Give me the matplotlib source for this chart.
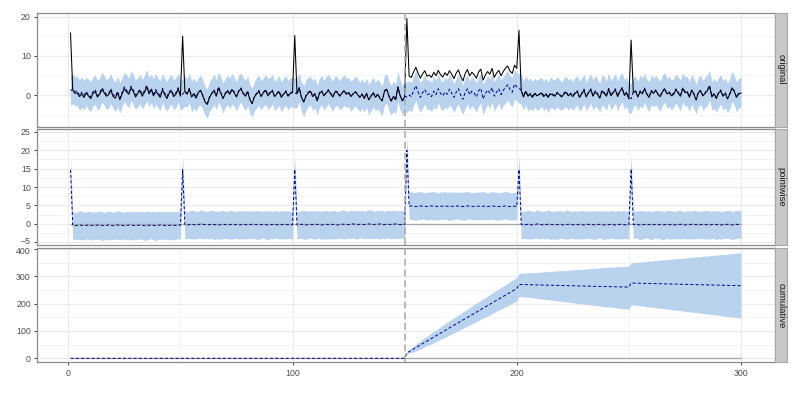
import numpy as np
import matplotlib
matplotlib.use("Agg")
import matplotlib.pyplot as plt
from matplotlib.ticker import FixedLocator
import matplotlib.transforms as mtransforms

plt.rcParams['font.family'] = ['Liberation Sans', 'DejaVu Sans']

# ---------------- data ----------------
time = np.arange(1, 301)
intervention_end = 150

panel_names = ["original", "pointwise", "cumulative"]

observed = [
    15.8, 1.2, 0.4, 0.6, -0.4, 0.3, -0.6, 0.5, -0.2, -0.9,
    0.4, 0.9, -0.5, 0.2, 1.4, 0.6, -0.3, 0.1, 1.2, -0.4,
    -0.8, 0.6, -1.2, 0.3, 1.6, 0.8, 0.2, 1.9, 0.9, -0.5,
    0.4, 1.1, -0.3, 0.7, 2.1, 0.3, 1.4, -0.2, 0.9, 0.2,
    -0.6, 1.3, 0.1, -0.9, 0.5, 1.0, -0.4, 0.2, 1.6, -0.3,
    15.0, 0.8, 0.2, 1.5, -0.5, 0.3, -0.8, 0.6, 1.2, -0.2,
    -1.8, -2.4, -0.6, 0.4, 1.1, -0.3, 1.8, 0.5, -0.9, 0.3,
    1.0, 0.2, 1.4, 0.6, -0.5, 0.9, 1.6, 0.4, -0.3, 0.8,
    -1.2, -2.2, -0.5, 0.3, 0.9, -0.4, 0.6, 1.2, -0.2, 0.5,
    1.1, -0.4, 0.3, 0.8, -0.6, 0.2, 0.9, -0.3, 0.4, 0.6,
    15.2, 0.3, 1.7, -0.6, -1.8, -0.3, 0.5, 1.0, -0.4, 0.2,
    -1.5, 0.4, 0.9, -0.2, 0.5, 1.2, 0.3, -0.5, 0.8, 0.6,
    -0.3, 0.4, 1.1, 0.2, 0.6, -0.4, 0.3, 0.8, 0.1, -0.6,
    0.2, -0.9, 0.4, -1.2, -0.3, 0.5, -0.6, 0.2, -0.8, -1.5,
    0.9, 1.5, -0.3, -1.6, -0.4, -1.2, 2.0, -0.2, -1.5, -0.5,
    19.5, 4.8, 4.5, 5.9, 7.1, 5.6, 4.3, 5.4, 6.2, 4.8,
    5.1, 4.5, 5.8, 4.9, 6.3, 5.2, 4.6, 5.7, 5.0, 6.2,
    5.3, 4.2, 5.6, 6.4, 4.8, 3.6, 5.5, 6.5, 4.9, 5.8,
    5.2, 4.3, 5.9, 6.6, 3.8, 5.1, 6.0, 5.3, 6.8, 4.5,
    5.6, 6.3, 4.9, 6.0, 6.9, 7.4, 6.1, 5.5, 7.6, 6.8,
    16.5, 1.1, -0.5, 0.9, -0.3, 0.2, -0.6, 0.4, -0.2, 0.1,
    0.5, -0.4, 0.2, -0.6, 0.3, 0.0, -0.3, 0.5, 0.1, -0.5,
    0.2, 0.7, -0.2, 0.3, -0.4, 0.4, 0.9, -0.6, 0.3, 1.2,
    -0.5, 0.6, 1.4, -0.3, 0.8, 0.2, -0.8, 1.0, 0.4, -0.3,
    1.5, -0.2, 0.6, 1.3, -0.4, 0.9, 1.7, -0.1, 0.5, -1.0,
    14.0, 0.6, 1.0, -0.5, 0.8, 0.3, 1.6, 0.2, -0.6, 0.9,
    0.4, 1.2, 0.1, -0.4, 0.8, 1.5, 0.3, 0.6, -0.2, 0.2,
    1.4, 0.5, -0.3, 1.7, 0.6, 0.8, -0.6, 1.2, 0.2, -1.3,
    0.6, 1.0, -0.2, 0.4, 1.1, 2.2, -0.5, 0.3, -0.9, 0.5,
    1.0, -0.3, 0.4, -1.0, 0.2, 1.7, 0.9, -0.6, 0.3, 0.5,
]

pointwise_mean = [
    14.7,
    -0.4, -0.5, -0.4, -0.3, -0.4, -0.5, -0.4, -0.3, -0.4, -0.4,
    -0.5, -0.3, -0.4, -0.4, -0.5, -0.4, -0.3, -0.4, -0.5, -0.4,
    -0.3, -0.4, -0.4, -0.5, -0.4, -0.3, -0.4, -0.4, -0.5, -0.4,
    -0.3, -0.4, -0.5, -0.4, -0.4, -0.3, -0.4, -0.5, -0.4, -0.3,
    -0.4, -0.4, -0.5, -0.4, -0.3, -0.4, -0.4, -0.3, -0.4,
    14.8,
    -0.2, -0.3, -0.2, -0.1, -0.2, -0.3, -0.2, 0.0, -0.1, -0.2,
    -0.3, -0.2, -0.1, -0.2, -0.2, -0.3, -0.2, -0.1, -0.2, -0.3,
    -0.2, -0.1, -0.2, -0.2, -0.3, -0.2, -0.1, -0.2, -0.3, -0.2,
    -0.1, -0.2, -0.2, -0.3, -0.2, -0.1, -0.2, -0.3, -0.2, -0.2,
    -0.1, -0.2, -0.3, -0.2, -0.1, -0.2, -0.2, -0.3, -0.2,
    14.8,
    -0.3, -0.2, -0.1, -0.2, -0.3, -0.2, -0.1, -0.2, -0.2, -0.1,
    -0.2, -0.3, -0.2, -0.1, -0.2, -0.2, -0.1, -0.2, -0.3, -0.2,
    -0.1, -0.1, -0.2, -0.2, -0.1, 0.0, -0.1, -0.2, -0.1, -0.1,
    -0.2, -0.1, 0.0, -0.1, -0.2, -0.1, -0.1, 0.0, -0.1, -0.2,
    -0.1, -0.1, -0.2, -0.1, 0.0, -0.1, -0.2, -0.1, -0.2,
    20.0,
    4.8, 4.9, 4.8, 4.7, 4.8, 4.9, 4.8, 4.8, 4.7, 4.8,
    4.9, 4.8, 4.8, 4.7, 4.8, 4.8, 4.9, 4.8, 4.7, 4.8,
    4.8, 4.9, 4.8, 4.8, 4.7, 4.8, 4.9, 4.8, 4.8, 4.7,
    4.8, 4.8, 4.9, 4.8, 4.8, 4.7, 4.8, 4.9, 4.8, 4.8,
    4.7, 4.8, 4.8, 4.9, 4.8, 4.7, 4.8, 4.8, 4.7,
    14.8,
    -0.2, -0.3, -0.2, -0.1, -0.2, -0.3, -0.2, 0.0, -0.1, -0.2,
    -0.3, -0.2, -0.1, -0.2, -0.2, -0.3, -0.2, -0.1, -0.2, -0.3,
    -0.2, -0.1, -0.2, -0.2, -0.3, -0.2, -0.1, -0.2, -0.3, -0.2,
    -0.1, -0.2, -0.2, -0.3, -0.2, -0.1, -0.2, -0.3, -0.2, -0.2,
    -0.1, -0.2, -0.3, -0.2, -0.1, -0.2, -0.2, -0.3, -0.2,
    14.9,
    -0.2, -0.1, -0.2, -0.3, -0.2, -0.2, -0.1, -0.2, -0.3, -0.2,
    -0.1, -0.2, -0.2, -0.3, -0.2, -0.1, -0.2, -0.2, -0.3, -0.2,
    -0.2, -0.1, -0.2, -0.3, -0.2, -0.2, -0.1, -0.2, -0.2, -0.3,
    -0.2, -0.1, -0.2, -0.2, -0.3, -0.2, -0.1, -0.2, -0.2, -0.3,
    -0.2, -0.2, -0.1, -0.2, -0.3, -0.2, -0.1, -0.2, -0.2,
]

# distance of the pointwise interval edges above / below the pointwise mean
pointwise_up = [
    3.7, 3.8, 3.6, 3.7, 3.9, 3.8, 3.7, 3.6, 3.8, 3.7,
    3.6, 3.8, 3.7, 3.9, 3.7, 3.6, 3.8, 3.7, 3.8, 3.6,
    3.7, 3.9, 3.8, 3.6, 3.7, 3.8, 3.7, 3.6, 3.9, 3.7,
    3.8, 3.6, 3.7, 3.8, 3.9, 3.7, 3.6, 3.8, 3.7, 3.8,
    3.6, 3.7, 3.8, 3.7, 3.9, 3.6, 3.7, 3.8, 3.7, 3.9,
    3.7, 3.8, 3.6, 3.7, 3.9, 3.8, 3.7, 3.6, 3.8, 3.7,
    3.6, 3.8, 3.7, 3.9, 3.7, 3.6, 3.8, 3.7, 3.8, 3.6,
    3.7, 3.9, 3.8, 3.6, 3.7, 3.8, 3.7, 3.6, 3.9, 3.7,
    3.8, 3.6, 3.7, 3.8, 3.9, 3.7, 3.6, 3.8, 3.7, 3.8,
    3.6, 3.7, 3.8, 3.7, 3.9, 3.6, 3.7, 3.8, 3.7, 3.9,
    3.7, 3.8, 3.6, 3.7, 3.9, 3.8, 3.7, 3.6, 3.8, 3.7,
    3.6, 3.8, 3.7, 3.9, 3.7, 3.6, 3.8, 3.7, 3.8, 3.6,
    3.7, 3.9, 3.8, 3.6, 3.7, 3.8, 3.7, 3.6, 3.9, 3.7,
    3.8, 3.6, 3.7, 3.8, 3.9, 3.7, 3.6, 3.8, 3.7, 3.8,
    3.6, 3.7, 3.8, 3.7, 3.9, 3.6, 3.7, 3.8, 3.7, 3.9,
    3.9, 3.8, 3.9, 3.7, 3.8, 4.0, 3.8, 3.9, 3.7, 3.8,
    3.9, 3.8, 4.0, 3.8, 3.7, 3.9, 3.8, 3.9, 3.8, 4.0,
    3.8, 3.9, 3.7, 3.8, 3.9, 3.8, 4.0, 3.9, 3.8, 3.7,
    3.9, 3.8, 3.9, 3.8, 4.0, 3.8, 3.7, 3.9, 3.8, 3.9,
    3.8, 3.7, 3.9, 3.8, 4.0, 3.9, 3.8, 3.7, 3.8, 3.6,
    3.7, 3.8, 3.6, 3.7, 3.9, 3.8, 3.7, 3.6, 3.8, 3.7,
    3.6, 3.8, 3.7, 3.9, 3.7, 3.6, 3.8, 3.7, 3.8, 3.6,
    3.7, 3.9, 3.8, 3.6, 3.7, 3.8, 3.7, 3.6, 3.9, 3.7,
    3.8, 3.6, 3.7, 3.8, 3.9, 3.7, 3.6, 3.8, 3.7, 3.8,
    3.6, 3.7, 3.8, 3.7, 3.9, 3.6, 3.7, 3.8, 3.7, 3.9,
    3.7, 3.8, 3.6, 3.7, 3.9, 3.8, 3.7, 3.6, 3.8, 3.7,
    3.6, 3.8, 3.7, 3.9, 3.7, 3.6, 3.8, 3.7, 3.8, 3.6,
    3.7, 3.9, 3.8, 3.6, 3.7, 3.8, 3.7, 3.6, 3.9, 3.7,
    3.8, 3.6, 3.7, 3.8, 3.9, 3.7, 3.6, 3.8, 3.7, 3.8,
    3.6, 3.7, 3.8, 3.7, 3.9, 3.6, 3.7, 3.8, 3.7, 3.9,
]

pointwise_down = [
    3.8, 3.9, 3.7, 3.8, 4.0, 3.9, 3.8, 3.7, 3.9, 4.0,
    3.8, 3.7, 3.9, 3.8, 4.1, 3.9, 3.8, 4.0, 3.9, 3.7,
    3.8, 3.9, 4.0, 3.8, 3.7, 3.9, 3.8, 4.0, 3.9, 3.8,
    3.7, 3.9, 3.8, 4.0, 3.9, 3.8, 3.7, 3.9, 4.1, 3.8,
    3.9, 3.8, 3.7, 3.9, 3.8, 4.0, 3.9, 3.8, 3.7, 3.9,
    3.8, 3.9, 3.7, 3.8, 4.0, 3.9, 3.8, 3.7, 3.9, 4.0,
    3.8, 3.7, 3.9, 3.8, 4.1, 3.9, 3.8, 4.0, 3.9, 3.7,
    3.8, 3.9, 4.0, 3.8, 3.7, 3.9, 3.8, 4.0, 3.9, 3.8,
    3.7, 3.9, 3.8, 4.0, 3.9, 3.8, 3.7, 3.9, 4.1, 3.8,
    3.9, 3.8, 3.7, 3.9, 3.8, 4.0, 3.9, 3.8, 3.7, 3.9,
    3.8, 3.9, 3.7, 3.8, 4.0, 3.9, 3.8, 3.7, 3.9, 4.0,
    3.8, 3.7, 3.9, 3.8, 4.1, 3.9, 3.8, 4.0, 3.9, 3.7,
    3.8, 3.9, 4.0, 3.8, 3.7, 3.9, 3.8, 4.0, 3.9, 3.8,
    3.7, 3.9, 3.8, 4.0, 3.9, 3.8, 3.7, 3.9, 4.1, 3.8,
    3.9, 3.8, 3.7, 3.9, 3.8, 4.0, 3.9, 3.8, 3.7, 3.9,
    3.8, 3.7, 3.6, 3.7, 3.8, 3.6, 3.7, 3.5, 3.6, 3.7,
    3.6, 3.7, 3.8, 3.6, 3.7, 3.5, 3.6, 3.7, 3.6, 3.8,
    3.7, 3.6, 3.5, 3.7, 3.6, 3.7, 3.8, 3.6, 3.5, 3.7,
    3.6, 3.7, 3.6, 3.8, 3.7, 3.6, 3.5, 3.7, 3.6, 3.7,
    3.8, 3.6, 3.7, 3.5, 3.6, 3.7, 3.6, 3.8, 3.7, 3.6,
    3.8, 3.9, 3.7, 3.8, 4.0, 3.9, 3.8, 3.7, 3.9, 4.0,
    3.8, 3.7, 3.9, 3.8, 4.1, 3.9, 3.8, 4.0, 3.9, 3.7,
    3.8, 3.9, 4.0, 3.8, 3.7, 3.9, 3.8, 4.0, 3.9, 3.8,
    3.7, 3.9, 3.8, 4.0, 3.9, 3.8, 3.7, 3.9, 4.1, 3.8,
    3.9, 3.8, 3.7, 3.9, 3.8, 4.0, 3.9, 3.8, 3.7, 3.9,
    3.8, 3.9, 3.7, 3.8, 4.0, 3.9, 3.8, 3.7, 3.9, 4.0,
    3.8, 3.7, 3.9, 3.8, 4.1, 3.9, 3.8, 4.0, 3.9, 3.7,
    3.8, 3.9, 4.0, 3.8, 3.7, 3.9, 3.8, 4.0, 3.9, 3.8,
    3.7, 3.9, 3.8, 4.0, 3.9, 3.8, 3.7, 3.9, 4.1, 3.8,
    3.9, 3.8, 3.7, 3.9, 3.8, 4.0, 3.9, 3.8, 3.7, 3.9,
]

# cumulative interval, post period (t = 151 .. 300)
cumulative_lower = [
    17, 19, 21, 24, 27, 31, 34, 38, 42, 46,
    49, 53, 57, 61, 65, 69, 73, 77, 81, 85,
    89, 93, 97, 101, 105, 109, 114, 118, 122, 126,
    130, 134, 138, 143, 147, 151, 155, 159, 164, 168,
    172, 176, 180, 184, 189, 193, 197, 201, 205, 209,
    226, 225, 224, 224, 223, 222, 221, 220, 219, 218,
    217, 216, 215, 214, 213, 212, 211, 210, 209, 208,
    207, 206, 205, 204, 203, 202, 201, 200, 199, 198,
    197, 196, 195, 194, 193, 192, 191, 190, 189, 188,
    188, 187, 186, 185, 184, 183, 182, 182, 181, 180,
    196, 195, 194, 193, 192, 191, 190, 189, 188, 187,
    186, 185, 184, 183, 182, 181, 180, 179, 178, 177,
    176, 175, 174, 173, 172, 171, 170, 169, 168, 167,
    166, 165, 164, 163, 162, 161, 160, 159, 158, 157,
    156, 155, 154, 153, 152, 151, 150, 149, 148, 147,
]

cumulative_upper = [
    23, 31, 38, 45, 51, 58, 64, 70, 76, 81,
    87, 93, 98, 104, 110, 115, 121, 126, 132, 137,
    143, 148, 153, 159, 164, 170, 175, 180, 186, 191,
    196, 202, 207, 212, 217, 222, 228, 233, 238, 244,
    249, 254, 259, 264, 270, 275, 280, 285, 290, 295,
    310, 311, 311, 312, 312, 313, 313, 314, 314, 315,
    315, 316, 317, 317, 318, 318, 319, 319, 320, 320,
    321, 321, 322, 322, 323, 324, 324, 325, 325, 326,
    327, 328, 328, 329, 329, 330, 330, 331, 332, 332,
    333, 333, 334, 334, 335, 335, 336, 336, 337, 337,
    349, 350, 351, 351, 352, 353, 354, 354, 355, 356,
    357, 357, 358, 359, 360, 360, 361, 362, 362, 363,
    364, 365, 365, 366, 367, 368, 368, 369, 370, 371,
    371, 372, 373, 374, 374, 375, 376, 377, 377, 378,
    379, 380, 380, 381, 382, 383, 383, 384, 385, 385,
]

# ---------------- derived series ----------------
y = np.array(observed)
pw = np.array(pointwise_mean)
pw_hi = pw + np.array(pointwise_up)
pw_lo = pw - np.array(pointwise_down)

pred = y - pw
pred_lo = y - pw_hi
pred_hi = y - pw_lo

post = time > intervention_end
cum = np.zeros_like(pw)
cum[post] = np.cumsum(pw[post])
cum_lo = np.zeros_like(pw)
cum_hi = np.zeros_like(pw)
cum_lo[post] = cumulative_lower
cum_hi[post] = cumulative_upper

# ---------------- styling ----------------
RIBBON = '#B9D3EE'
MEAN_C = '#00008B'
GRID = '#EBEBEB'
GRID_MINOR = '#F3F3F3'
BORDER = '#8C8C8C'
TXT = '#4D4D4D'
DASH = (0, (3.2, 2.2))

fig = plt.figure(figsize=(8.0, 3.94), dpi=100)
W, H = 800.0, 394.0
left_px, right_px = 37.0, 774.5
panels_px = [(12.7, 126.8), (129.3, 244.5), (248.2, 362.3)]
ylims = [(-8.1, 21.0), (-5.6, 25.7), (-14.6, 402.5)]
ymajor = [[0, 10, 20], [-5, 0, 5, 10, 15, 20, 25], [0, 100, 200, 300, 400]]
yminor = [[-5, 5, 15], [-2.5, 2.5, 7.5, 12.5, 17.5, 22.5], [50, 150, 250, 350]]

axes = []
for i, (top, bot) in enumerate(panels_px):
    ax = fig.add_axes([left_px / W, 1 - bot / H, (right_px - left_px) / W, (bot - top) / H])
    ax.set_xlim(-13.95, 314.95)
    ax.set_ylim(*ylims[i])
    ax.xaxis.set_major_locator(FixedLocator([0, 100, 200, 300]))
    ax.xaxis.set_minor_locator(FixedLocator([50, 150, 250]))
    ax.yaxis.set_major_locator(FixedLocator(ymajor[i]))
    ax.yaxis.set_minor_locator(FixedLocator(yminor[i]))
    ax.set_axisbelow(True)
    ax.grid(which='major', color=GRID, lw=0.9)
    ax.grid(which='minor', color=GRID_MINOR, lw=0.6)
    for s in ax.spines.values():
        s.set_color(BORDER)
        s.set_linewidth(0.9)
    ax.tick_params(which='minor', length=0)
    ax.tick_params(which='major', length=2.5, width=0.7, color='#444444',
                   labelsize=6.3, labelcolor=TXT, pad=2.0)
    if i < 2:
        ax.tick_params(axis='x', which='both', bottom=False, labelbottom=False)
    axes.append(ax)

    # strip on the right
    sax = fig.add_axes([775.0 / W, 1 - bot / H, 12.3 / W, (bot - top) / H])
    sax.set_facecolor('#C8C8C8')
    sax.set_xticks([])
    sax.set_yticks([])
    for s in sax.spines.values():
        s.set_color('#A8A8A8')
        s.set_linewidth(0.8)
    sax.text(0.5, 0.5, panel_names[i], rotation=-90, ha='center', va='center',
             fontsize=6.8, color='#1A1A1A', transform=sax.transAxes)

# original
ax = axes[0]
ax.fill_between(time, pred_lo, pred_hi, color=RIBBON, lw=0)
ax.plot(time, pred, color=MEAN_C, lw=0.7, ls=DASH)
ax.plot(time, y, color='black', lw=0.75)

# pointwise
ax = axes[1]
ax.fill_between(time, pw_lo, pw_hi, color=RIBBON, lw=0)
ax.plot(time, np.zeros_like(pw), color='#A9A9A9', lw=0.9)
ax.plot(time, pw, color=MEAN_C, lw=0.7, ls=DASH)

# cumulative
ax = axes[2]
ax.fill_between(time, cum_lo, cum_hi, color=RIBBON, lw=0)
ax.plot(time, np.zeros_like(cum), color='#A9A9A9', lw=0.9)
ax.plot(time, cum, color=MEAN_C, lw=0.7, ls=DASH)

for ax in axes:
    ax.axvline(intervention_end, color='#A9A9A9', lw=1.1, ls=(0, (4.5, 2.5)), zorder=5)

# the bottom label of the middle panel and the top label of the lower panel sit
# very close together; nudge them apart by a pixel each so they do not collide
fig.canvas.draw()
lab_mid = [t for t in axes[1].get_yticklabels() if t.get_text() in ('-5', '\u22125')]
lab_low = [t for t in axes[2].get_yticklabels() if t.get_text() == '400']
for t in lab_mid:
    t.set_transform(t.get_transform() + mtransforms.ScaledTranslation(0, 1.2 / 72, fig.dpi_scale_trans))
for t in lab_low:
    t.set_transform(t.get_transform() + mtransforms.ScaledTranslation(0, -1.2 / 72, fig.dpi_scale_trans))

fig.savefig('out.png', dpi=100, facecolor='white')
